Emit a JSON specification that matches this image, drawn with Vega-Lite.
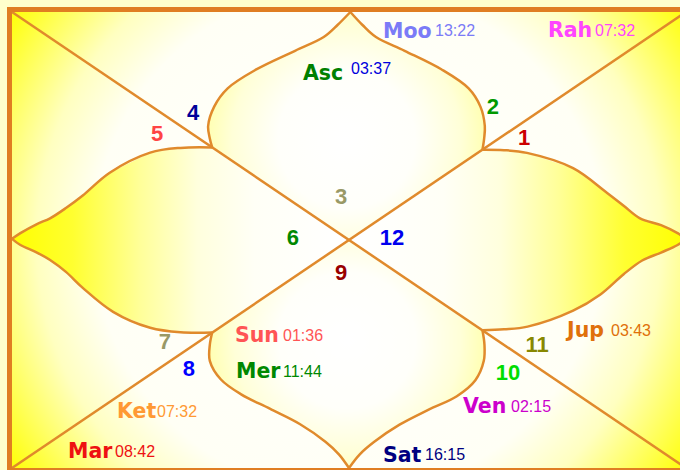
{
"$schema": "https://vega.github.io/schema/vega-lite/v6.json",
"width": 680, "height": 470, "padding": 0,
"autosize": {"type": "none"},
"background": "#FFFFCC",
"config": {"view": {"stroke": null}},
"datasets": {
"frame": [
{"k": "fill", "u": -1, "u2": 1, "v": -1, "v2": 1},
{"k": "border", "u": -1.0074, "u2": 1.0074, "v": -1.011, "v2": 1.011}
],
"diag": [
{"u": -1, "v": 1, "u2": 1, "v2": -1},
{"u": -1, "v": -1, "u2": 1, "v2": 1}
],
"geo": [
{"c":"tl","p":"top","o":0,"po":9,"u":0.004,"v":1},
{"c":"tl","p":"top","o":1,"po":8,"u":-0.034,"v":0.943},
{"c":"tl","p":"top","o":2,"po":7,"u":-0.075,"v":0.89},
{"c":"tl","p":"top","o":3,"po":6,"u":-0.16,"v":0.83},
{"c":"tl","p":"top","o":4,"po":5,"u":-0.275,"v":0.748},
{"c":"tl","p":"top","o":5,"po":4,"u":-0.36,"v":0.665},
{"c":"tl","p":"top","o":6,"po":3,"u":-0.4,"v":0.585},
{"c":"tl","p":"top","o":7,"po":2,"u":-0.418,"v":0.5},
{"c":"tl","p":"top","o":8,"po":1,"u":-0.413,"v":0.445},
{"c":"tl","p":"top","o":9,"po":0,"u":-0.406,"v":0.406},
{"c":"tr","p":"top","o":0,"po":10,"u":0.004,"v":1},
{"c":"tr","p":"top","o":1,"po":11,"u":0.04,"v":0.943},
{"c":"tr","p":"top","o":2,"po":12,"u":0.08,"v":0.89},
{"c":"tr","p":"top","o":3,"po":13,"u":0.165,"v":0.83},
{"c":"tr","p":"top","o":4,"po":14,"u":0.275,"v":0.748},
{"c":"tr","p":"top","o":5,"po":15,"u":0.355,"v":0.665},
{"c":"tr","p":"top","o":6,"po":16,"u":0.39,"v":0.585},
{"c":"tr","p":"top","o":7,"po":17,"u":0.403,"v":0.5},
{"c":"tr","p":"top","o":8,"po":18,"u":0.401,"v":0.445},
{"c":"tr","p":"top","o":9,"po":19,"u":0.396,"v":0.396},
{"p":"top","po":20,"u":0,"v":0},
{"c":"bl","p":"bottom","o":0,"po":9,"u":0,"v":-1},
{"c":"bl","p":"bottom","o":1,"po":8,"u":-0.03,"v":-0.94},
{"c":"bl","p":"bottom","o":2,"po":7,"u":-0.07,"v":-0.885},
{"c":"bl","p":"bottom","o":3,"po":6,"u":-0.145,"v":-0.808},
{"c":"bl","p":"bottom","o":4,"po":5,"u":-0.235,"v":-0.74},
{"c":"bl","p":"bottom","o":5,"po":4,"u":-0.32,"v":-0.677},
{"c":"bl","p":"bottom","o":6,"po":3,"u":-0.38,"v":-0.612},
{"c":"bl","p":"bottom","o":7,"po":2,"u":-0.413,"v":-0.53},
{"c":"bl","p":"bottom","o":8,"po":1,"u":-0.413,"v":-0.46},
{"c":"bl","p":"bottom","o":9,"po":0,"u":-0.406,"v":-0.406},
{"c":"br","p":"bottom","o":0,"po":10,"u":0,"v":-1},
{"c":"br","p":"bottom","o":1,"po":11,"u":0.032,"v":-0.94},
{"c":"br","p":"bottom","o":2,"po":12,"u":0.075,"v":-0.885},
{"c":"br","p":"bottom","o":3,"po":13,"u":0.15,"v":-0.81},
{"c":"br","p":"bottom","o":4,"po":14,"u":0.235,"v":-0.745},
{"c":"br","p":"bottom","o":5,"po":15,"u":0.32,"v":-0.685},
{"c":"br","p":"bottom","o":6,"po":16,"u":0.375,"v":-0.615},
{"c":"br","p":"bottom","o":7,"po":17,"u":0.4,"v":-0.53},
{"c":"br","p":"bottom","o":8,"po":18,"u":0.402,"v":-0.46},
{"c":"br","p":"bottom","o":9,"po":19,"u":0.396,"v":-0.396},
{"p":"bottom","po":20,"u":0,"v":0},
{"c":"lt","p":"left","o":0,"po":9,"u":-1,"v":0.005},
{"c":"lt","p":"left","o":1,"po":8,"u":-0.975,"v":0.03},
{"c":"lt","p":"left","o":2,"po":7,"u":-0.926,"v":0.07},
{"c":"lt","p":"left","o":3,"po":6,"u":-0.887,"v":0.095},
{"c":"lt","p":"left","o":4,"po":5,"u":-0.84,"v":0.14},
{"c":"lt","p":"left","o":5,"po":4,"u":-0.79,"v":0.195},
{"c":"lt","p":"left","o":6,"po":3,"u":-0.71,"v":0.295},
{"c":"lt","p":"left","o":7,"po":2,"u":-0.59,"v":0.383},
{"c":"lt","p":"left","o":8,"po":1,"u":-0.5,"v":0.404},
{"c":"lt","p":"left","o":9,"po":0,"u":-0.406,"v":0.406},
{"c":"lb","p":"left","o":0,"po":10,"u":-1,"v":0.005},
{"c":"lb","p":"left","o":1,"po":11,"u":-0.975,"v":-0.022},
{"c":"lb","p":"left","o":2,"po":12,"u":-0.926,"v":-0.055},
{"c":"lb","p":"left","o":3,"po":13,"u":-0.887,"v":-0.088},
{"c":"lb","p":"left","o":4,"po":14,"u":-0.84,"v":-0.14},
{"c":"lb","p":"left","o":5,"po":15,"u":-0.79,"v":-0.21},
{"c":"lb","p":"left","o":6,"po":16,"u":-0.7,"v":-0.315},
{"c":"lb","p":"left","o":7,"po":17,"u":-0.59,"v":-0.385},
{"c":"lb","p":"left","o":8,"po":18,"u":-0.5,"v":-0.405},
{"c":"lb","p":"left","o":9,"po":19,"u":-0.406,"v":-0.406},
{"p":"left","po":20,"u":0,"v":0},
{"c":"rt","p":"right","o":0,"po":9,"u":1,"v":0.005},
{"c":"rt","p":"right","o":1,"po":8,"u":0.975,"v":0.03},
{"c":"rt","p":"right","o":2,"po":7,"u":0.926,"v":0.065},
{"c":"rt","p":"right","o":3,"po":6,"u":0.8635,"v":0.095},
{"c":"rt","p":"right","o":4,"po":5,"u":0.815,"v":0.15},
{"c":"rt","p":"right","o":5,"po":4,"u":0.766,"v":0.206},
{"c":"rt","p":"right","o":6,"po":3,"u":0.665,"v":0.315},
{"c":"rt","p":"right","o":7,"po":2,"u":0.528,"v":0.382},
{"c":"rt","p":"right","o":8,"po":1,"u":0.46,"v":0.394},
{"c":"rt","p":"right","o":9,"po":0,"u":0.396,"v":0.396},
{"c":"rb","p":"right","o":0,"po":10,"u":1,"v":0.005},
{"c":"rb","p":"right","o":1,"po":11,"u":0.975,"v":-0.022},
{"c":"rb","p":"right","o":2,"po":12,"u":0.926,"v":-0.055},
{"c":"rb","p":"right","o":3,"po":13,"u":0.87,"v":-0.09},
{"c":"rb","p":"right","o":4,"po":14,"u":0.815,"v":-0.15},
{"c":"rb","p":"right","o":5,"po":15,"u":0.745,"v":-0.24},
{"c":"rb","p":"right","o":6,"po":16,"u":0.665,"v":-0.31},
{"c":"rb","p":"right","o":7,"po":17,"u":0.53,"v":-0.38},
{"c":"rb","p":"right","o":8,"po":18,"u":0.46,"v":-0.392},
{"c":"rb","p":"right","o":9,"po":19,"u":0.396,"v":-0.396},
{"p":"right","po":20,"u":0,"v":0}
],
"planets": [
{"pl":"Asc","t":"03:37","u":-0.1365,"v":0.7018,"tu":0.0059,"tv":0.7281},
{"pl":"Moo","t":"13:22","u":0.1009,"v":0.886,"tu":0.2552,"tv":0.8947},
{"pl":"Rah","t":"07:32","u":0.5905,"v":0.8904,"tu":0.73,"tv":0.8947},
{"pl":"Sun","t":"01:36","u":-0.3383,"v":-0.4474,"tu":-0.1958,"tv":-0.443},
{"pl":"Mer","t":"11:44","u":-0.3353,"v":-0.6053,"tu":-0.1958,"tv":-0.6009},
{"pl":"Ket","t":"07:32","u":-0.6884,"v":-0.7807,"tu":-0.5697,"tv":-0.7763},
{"pl":"Mar","t":"08:42","u":-0.8338,"v":-0.9561,"tu":-0.6944,"tv":-0.9518},
{"pl":"Jup","t":"03:43","u":0.6469,"v":-0.4254,"tu":0.7774,"tv":-0.4211},
{"pl":"Ven","t":"02:15","u":0.3383,"v":-0.7588,"tu":0.4807,"tv":-0.7544},
{"pl":"Sat","t":"16:15","u":0.1009,"v":-0.9737,"tu":0.2255,"tv":-0.9649}
],
"signs": [
{"n":"1","u":0.5193,"v":0.4474},
{"n":"2","u":0.4273,"v":0.5833},
{"n":"3","u":-0.0237,"v":0.1886},
{"n":"4","u":-0.4629,"v":0.557},
{"n":"5","u":-0.5697,"v":0.4649},
{"n":"6","u":-0.1662,"v":0.0088},
{"n":"7","u":-0.546,"v":-0.4474},
{"n":"8","u":-0.4748,"v":-0.5658},
{"n":"9","u":-0.0237,"v":-0.1447},
{"n":"10","u":0.4718,"v":-0.5833},
{"n":"11","u":0.5579,"v":-0.4605},
{"n":"12","u":0.1276,"v":0.0088}
]
},
"encoding": {
"x": {"field": "u", "type": "quantitative", "scale": {"domain": [-1.0356, 0.9822], "nice": false, "zero": false}, "axis": null},
"y": {"field": "v", "type": "quantitative", "scale": {"domain": [-1.0088, 1.0526], "nice": false, "zero": false}, "axis": null}
},
"layer": [
{
"data": {"name": "frame"},
"transform": [{"filter": "datum.k == 'fill'"}],
"mark": {"type": "rect", "stroke": null, "fill": {"gradient": "radial", "x1": 0.5, "y1": 0.5, "r1": 0, "x2": 0.5, "y2": 0.5, "r2": 0.61,
"stops": [{"offset": 0, "color": "#FFFFFF"}, {"offset": 0.62, "color": "#FFFFF5"}, {"offset": 0.76, "color": "#FFFFC0"}, {"offset": 0.86, "color": "#FFFF70"}, {"offset": 1, "color": "#FFFF00"}]}},
"encoding": {"x2": {"field": "u2"}, "y2": {"field": "v2"}}
},
{
"data": {"name": "geo"},
"transform": [{"filter": "datum.p == 'left'"}],
"mark": {"type": "line", "interpolate": "linear", "strokeWidth": 0, "strokeOpacity": 0,
"fill": {"gradient": "linear", "x1": 0, "y1": 0.5, "x2": 1, "y2": 0.5,
"stops": [{"offset": 0, "color": "#FFFF00"}, {"offset": 0.18, "color": "#FFFF30"}, {"offset": 0.38, "color": "#FFFF99"}, {"offset": 0.55, "color": "#FFFFDD"}, {"offset": 0.72, "color": "#FFFFF6"}, {"offset": 1, "color": "#FFFFFF"}]}},
"encoding": {"order": {"field": "po", "type": "quantitative"}}
},
{
"data": {"name": "geo"},
"transform": [{"filter": "datum.p == 'right'"}],
"mark": {"type": "line", "interpolate": "linear", "strokeWidth": 0, "strokeOpacity": 0,
"fill": {"gradient": "linear", "x1": 1, "y1": 0.5, "x2": 0, "y2": 0.5,
"stops": [{"offset": 0, "color": "#FFFF00"}, {"offset": 0.18, "color": "#FFFF30"}, {"offset": 0.38, "color": "#FFFF99"}, {"offset": 0.55, "color": "#FFFFDD"}, {"offset": 0.72, "color": "#FFFFF6"}, {"offset": 1, "color": "#FFFFFF"}]}},
"encoding": {"order": {"field": "po", "type": "quantitative"}}
},
{
"data": {"name": "geo"},
"transform": [{"filter": "datum.p == 'top'"}],
"mark": {"type": "line", "interpolate": "linear", "strokeWidth": 0, "strokeOpacity": 0,
"fill": {"gradient": "radial", "x1": 0.5, "y1": 0.55, "r1": 0, "x2": 0.5, "y2": 0.55, "r2": 0.55,
"stops": [{"offset": 0, "color": "#FFFFFF"}, {"offset": 0.45, "color": "#FFFFFA"}, {"offset": 0.75, "color": "#FFFFD8"}, {"offset": 1, "color": "#FFFFA0"}]}},
"encoding": {"order": {"field": "po", "type": "quantitative"}}
},
{
"data": {"name": "geo"},
"transform": [{"filter": "datum.p == 'bottom'"}],
"mark": {"type": "line", "interpolate": "linear", "strokeWidth": 0, "strokeOpacity": 0,
"fill": {"gradient": "radial", "x1": 0.5, "y1": 0.45, "r1": 0, "x2": 0.5, "y2": 0.45, "r2": 0.55,
"stops": [{"offset": 0, "color": "#FFFFFF"}, {"offset": 0.45, "color": "#FFFFFA"}, {"offset": 0.75, "color": "#FFFFD8"}, {"offset": 1, "color": "#FFFFA0"}]}},
"encoding": {"order": {"field": "po", "type": "quantitative"}}
},
{
"data": {"name": "diag"},
"mark": {"type": "rule", "color": "#E08A2C", "strokeWidth": 2.5},
"encoding": {"x2": {"field": "u2"}, "y2": {"field": "v2"}}
},
{
"data": {"name": "geo"},
"transform": [{"filter": "isValid(datum.c)"}],
"mark": {"type": "line", "interpolate": "catmull-rom", "color": "#E08A2C", "strokeWidth": 2.5},
"encoding": {"detail": {"field": "c", "type": "nominal"}, "order": {"field": "o", "type": "quantitative"}}
},
{
"data": {"name": "frame"},
"transform": [{"filter": "datum.k == 'border'"}],
"mark": {"type": "rect", "fill": null, "stroke": "#E07E22", "strokeWidth": 5},
"encoding": {"x2": {"field": "u2"}, "y2": {"field": "v2"}}
},
{
"data": {"name": "planets"},
"mark": {"type": "text", "align": "left", "baseline": "alphabetic", "font": "DejaVu Sans", "fontWeight": "bold", "fontSize": 20.5},
"encoding": {
"text": {"field": "pl"},
"color": {"field": "pl", "type": "nominal", "legend": null, "scale": {"domain": ["Asc","Moo","Rah","Sun","Mer","Ket","Mar","Jup","Ven","Sat"], "range": ["#008000","#7B7BF7","#FF44FF","#FF5555","#008800","#FF9933","#EE1111","#E0700A","#CC00CC","#000080"]}}
}
},
{
"data": {"name": "planets"},
"mark": {"type": "text", "align": "left", "baseline": "alphabetic", "font": "Liberation Sans", "fontSize": 16},
"encoding": {
"x": {"field": "tu", "type": "quantitative"},
"y": {"field": "tv", "type": "quantitative"},
"text": {"field": "t"},
"color": {"field": "pl", "type": "nominal", "legend": null, "scale": {"domain": ["Asc","Moo","Rah","Sun","Mer","Ket","Mar","Jup","Ven","Sat"], "range": ["#0000DD","#7B7BF7","#FF44FF","#FF5555","#008800","#FF9933","#EE1111","#E0700A","#CC00CC","#000080"]}}
}
},
{
"data": {"name": "signs"},
"mark": {"type": "text", "align": "center", "baseline": "middle", "font": "Liberation Sans", "fontWeight": "bold", "fontSize": 22},
"encoding": {
"text": {"field": "n"},
"color": {"field": "n", "type": "nominal", "legend": null, "scale": {"domain": ["1","2","3","4","5","6","7","8","9","10","11","12"], "range": ["#CC0000","#009900","#999966","#000099","#FF4444","#008800","#999966","#0000FF","#990000","#00DD00","#888800","#0000EE"]}}
}
}
],
"resolve": {"scale": {"color": "independent"}}
}
